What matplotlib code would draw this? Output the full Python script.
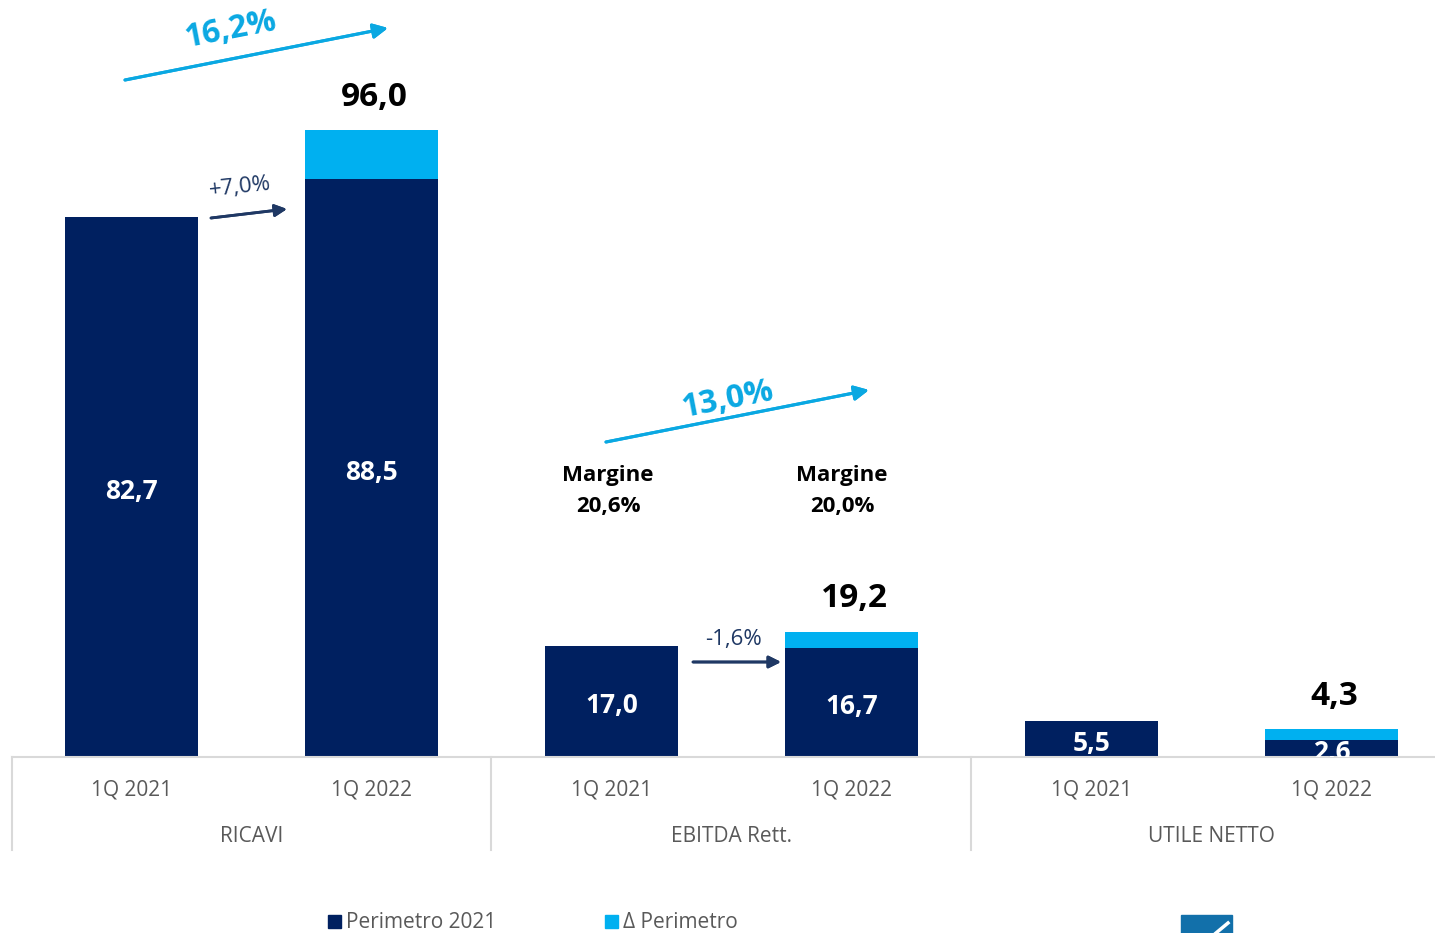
import matplotlib.pyplot as plt
from matplotlib.patches import Rectangle
from matplotlib.lines import Line2D

plt.rcParams['font.family'] = ['Open Sans', 'DejaVu Sans']

# data
groups = ['RICAVI', 'EBITDA Rett.', 'UTILE NETTO']
periods = ['1Q 2021', '1Q 2022']
perimetro_2021 = [82.7, 88.5, 17.0, 16.7, 5.5, 2.6]
delta_perimetro = [0.0, 7.5, 0.0, 2.5, 0.0, 1.7]
totals = [None, '96,0', None, '19,2', None, '4,3']
margini = ['Margine\n20,6%', 'Margine\n20,0%']
growth_total = ['16,2%', '13,0%']
growth_like = ['+7,0%', '-1,6%']

navy = '#002060'
cyan = '#00b0f0'
arrow_cyan = '#0aa8e2'
arrow_navy = '#1f3864'
grey_txt = '#595959'
grey_line = '#d9d9d9'

W, H = 1435, 933
fig = plt.figure(figsize=(W / 100, H / 100), dpi=100)

def fp(x, y):
    # pixel (top-left origin) -> figure fraction
    return (x / W, 1 - y / H)

ax = fig.add_axes([11.5 / W, (H - 757) / H, 1440 / W, 757 / H])
ax.set_xlim(-0.5, 5.5)
ax.set_ylim(0, 757 / 6.53)
ax.axis('off')

x = list(range(6))
bw = 133 / 240
ax.bar(x, perimetro_2021, width=bw, color=navy, zorder=2)
ax.bar(x, delta_perimetro, width=bw, bottom=perimetro_2021, color=cyan, zorder=2)

fmt = lambda v: f'{v:.1f}'.replace('.', ',')
for i, v in enumerate(perimetro_2021):
    ax.annotate(fmt(v), (i, v / 2), xytext=(0, -3), textcoords='offset points',
                ha='center', va='center', color='white', fontsize=19,
                fontweight='bold', annotation_clip=False, clip_on=True, zorder=3)
for i, t in enumerate(totals):
    if t:
        top = perimetro_2021[i] + delta_perimetro[i]
        ax.annotate(t, (i, top), xytext=(2, 23.5), textcoords='offset points',
                    ha='center', va='center', fontsize=24, fontweight='bold', color='black')

# category axis
tr = ax.get_xaxis_transform()
ax.add_line(Line2D([-0.5, 5.5], [0, 0], color=grey_line, lw=1.5, transform=tr, clip_on=False))
for b in [-0.5, 1.5, 3.5]:
    ax.add_line(Line2D([b, b], [0, -93 / 757], color=grey_line, lw=1.5, transform=tr, clip_on=False))
for i in x:
    ax.text(i, -33 / 757, periods[i % 2], ha='center', va='center', fontsize=15,
            color=grey_txt, transform=tr)
for g, name in enumerate(groups):
    ax.text(2 * g + 0.5, -80 / 757, name, ha='center', va='center', fontsize=15,
            color=grey_txt, transform=tr)

# margin labels
for xm, txt in zip([608, 842], margini):
    fig.text(*fp(xm, 491), txt, ha='center', va='center', fontsize=16,
             fontweight='bold', color='black', linespacing=1.6)

# total growth arrows
for (s, e, c, txt) in [((125, 80), (388, 28), (230, 30), growth_total[0]),
                       ((606, 442), (869, 390), (727, 400), growth_total[1])]:
    fig.add_artist(plt.annotate('', xy=fp(*e), xytext=fp(*s), xycoords='figure fraction',
                                arrowprops=dict(arrowstyle='-|>', color=arrow_cyan, lw=2.2,
                                                mutation_scale=22, shrinkA=0, shrinkB=0)))
    fig.text(*fp(*c), txt, ha='center', va='center', fontsize=23, fontweight='bold',
             color=arrow_cyan, rotation=11)

# like-for-like arrows
for (s, e, c, rot, txt) in [((211, 218), (287, 209), (240, 187), 6, growth_like[0]),
                            ((693, 662), (781, 662), (733, 639), 0, growth_like[1])]:
    fig.add_artist(plt.annotate('', xy=fp(*e), xytext=fp(*s), xycoords='figure fraction',
                                arrowprops=dict(arrowstyle='-|>', color=arrow_navy, lw=2,
                                                mutation_scale=18, shrinkA=0, shrinkB=0)))
    fig.text(*fp(*c), txt, ha='center', va='center', fontsize=16, color=arrow_navy,
             rotation=rot)

# legend
for (sx, col, lab) in [(328, navy, 'Perimetro 2021'), (605, cyan, 'Δ Perimetro')]:
    fig.patches.append(Rectangle(fp(sx, 928), 13 / W, 13 / H, color=col,
                                 transform=fig.transFigure, figure=fig))
    fig.text(*fp(sx + 18, 923), lab, ha='left', va='center', fontsize=15, color=grey_txt)

# logo fragment at bottom right
fig.patches.append(Rectangle(fp(1181, 940), 51 / W, 25 / H, color='#1270aa',
                             transform=fig.transFigure, figure=fig))
fig.add_artist(Line2D([1216 / W, 1228 / W], [1 - 933 / H, 1 - 923 / H], color='white', lw=2.5,
                      transform=fig.transFigure))

fig.savefig('out.png', dpi=100)
